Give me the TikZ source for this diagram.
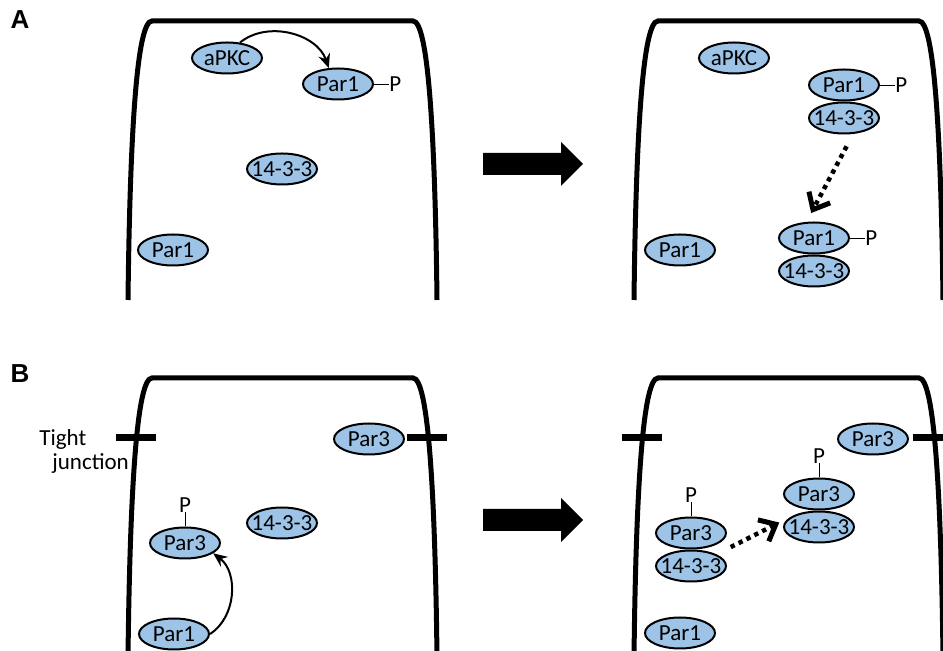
\documentclass[tikz,border=0pt]{standalone}
\usepackage{fontspec}
\setmainfont{Carlito}
\newfontfamily\panelfont{Liberation Sans}
\usepackage{tikz}
\usetikzlibrary{arrows.meta,shapes.geometric,positioning}
\definecolor{protblue}{RGB}{157,195,230}

\begin{document}
\begin{tikzpicture}[x=0.5pt,y=0.5pt,font=\fontsize{11.5pt}{12pt}\selectfont,
 prot/.style={ellipse,draw,fill=protblue,line width=1pt,minimum width=35pt,minimum height=15.5pt,inner sep=-5pt},
 phos/.style={inner sep=0pt},
 wall/.style={line width=2.5pt},
 acts/.style={-{Stealth[length=7pt,width=6pt]},line width=1pt},
 move/.style={line width=2.25pt,dash pattern=on 2.2pt off 2.2pt,-{Straight Barb[length=7pt,width=12pt,line width=2.5pt]}}]
 \useasboundingbox (0,0) rectangle (943,-651);
 \clip (0,0) rectangle (943,-651);

 % cells and tight junctions
 \foreach \dx/\dy in {0/0,506/0,0/-357,506/-357}
 \draw[wall,shift={(\dx,\dy)}] (128,-300) .. controls (130,-130) and (137,-21) .. (152,-21)
 -- (413,-21) .. controls (428,-21) and (435,-130) .. (437,-300);
 \foreach \x in {116,407,622,913}
 \draw[line width=3.5pt] (\x,-438) -- ++(40,0);

 % big arrows between the panels
 \foreach \y in {164,520}
 \fill[shift={(0,-\y)}] (483,11) -- (561,11) -- (561,22) -- (583,0) -- (561,-22) -- (561,-11) -- (483,-11) -- cycle;

 % panel labels
 \node (lblA) at (20,-20) {\panelfont\bfseries\fontsize{13pt}{14pt}\selectfont A};
 \node (lblB) at (20,-374) {\panelfont\bfseries\fontsize{13pt}{14pt}\selectfont B};
 \node[anchor=west,align=left,inner sep=0pt] (tj) at (39,-451) {Tight\\\hspace*{6.5pt}junction};

 % A, before
 \node[prot] (apkc1) at (227,-58) {aPKC};
 \node[prot] (par1a) at (338,-84) {Par1};
 \node[phos] (pa) [right=7.5pt of par1a] {P};
 \node[prot] (c14a) at (282,-169) {14-3-3};
 \node[prot] (par1b) at (173,-250) {Par1};
 \draw (par1a) -- (pa);
 \draw[acts] (apkc1.50) to[bend left=55] (par1a.120);

 % A, after
 \node[prot] (apkc2) at (734,-58) {aPKC};
 \node[prot] (par1c) at (844,-85) {Par1};
 \node[phos] (pc) [right=7.5pt of par1c] {P};
 \node[prot] (c14c) [below=0pt of par1c] {14-3-3};
 \node[prot] (par1d) at (814,-238) {Par1};
 \node[phos] (pd) [right=7.5pt of par1d] {P};
 \node[prot] (c14d) [below=0pt of par1d] {14-3-3};
 \node[prot] (par1e) at (680,-250) {Par1};
 \draw (par1c) -- (pc);
 \draw (par1d) -- (pd);
 \draw[move,shorten <=7pt,shorten >=5pt] (c14c.-60) -- (par1d.115);

 % B, before
 \node[prot] (par3a) at (369,-439) {Par3};
 \node[prot] (par3b) at (185,-543) {Par3};
 \node[phos] (pb3) [above=7pt of par3b] {P};
 \node[prot] (c14e) at (282,-523) {14-3-3};
 \node[prot] (par1f) at (174,-634) {Par1};
 \draw (par3b) -- (pb3);
 \draw[acts] (par1f.east) to[bend right=55] (par3b.-20);

 % B, after
 \node[prot] (par3c) at (873,-439) {Par3};
 \node[prot] (par3d) at (819,-494) {Par3};
 \node[phos] (pd3) [above=7pt of par3d] {P};
 \node[prot] (c14f) [below=0pt of par3d] {14-3-3};
 \node[prot] (par3e) at (691,-533) {Par3};
 \node[phos] (pe3) [above=7pt of par3e] {P};
 \node[prot] (c14g) [below=0pt of par3e] {14-3-3};
 \node[prot] (par1g) at (680,-633) {Par1};
 \draw (par3d) -- (pd3);
 \draw (par3e) -- (pe3);
 \draw[move,shorten <=8pt,shorten >=8pt] (c14g.north east) -- (c14f.north west);
\end{tikzpicture}
\end{document}
